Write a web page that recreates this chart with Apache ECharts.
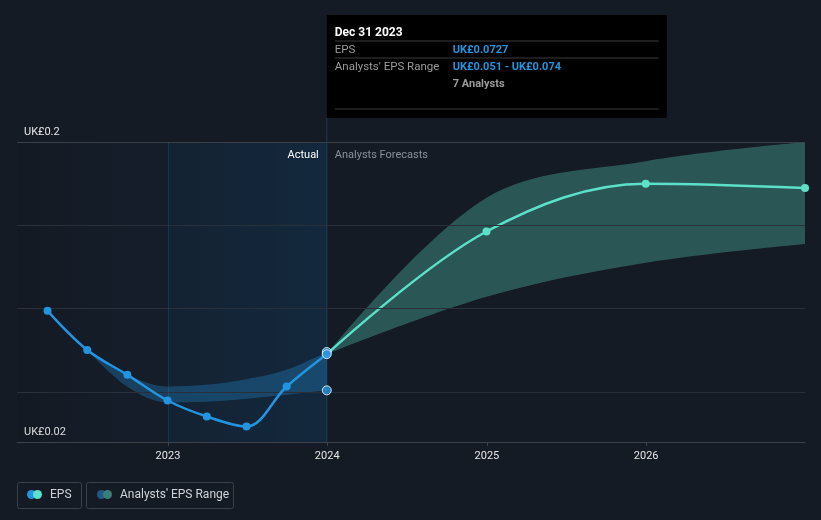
<!DOCTYPE html>
<html><head><meta charset="utf-8">
<script src="https://cdn.jsdelivr.net/npm/echarts@6/dist/echarts.min.js"></script>
<style>html,body{margin:0;padding:0;background:#151b25;} #c{width:821px;height:520px;}</style>
</head><body><div id="c"></div>
<script>
// ---- data ----
const actualDates = ['2022-03-31','2022-06-30','2022-09-30','2022-12-31','2023-03-31','2023-06-30','2023-09-30','2023-12-31'];
const actualEPS = [0.0987,0.0752,0.0603,0.0449,0.0353,0.0293,0.0533,0.0727];
const pastRangeDates = ['2022-06-30','2022-09-30','2022-12-31','2023-03-31','2023-06-30','2023-09-30','2023-12-31'];
const pastRangeLow = [0.0752,0.0531,0.0437,0.0441,0.0459,0.0483,0.051];
const pastRangeHigh = [0.0752,0.0603,0.0533,0.0543,0.0577,0.0633,0.074];
const forecastDates = ['2023-12-31','2024-12-31','2025-12-31','2026-12-31'];
const forecastEPS = [0.0727,0.1463,0.175,0.1724];
const forecastLow = [0.0727,0.1071,0.1275,0.1388];
const forecastHigh = [0.0727,0.1666,0.1885,0.2];
const highlightDate = '2023-12-31';
const highlightValues = [0.074, 0.0727, 0.051];
const yearStart = '2023-01-01';
const yLabelValues = [0.02, 0.2];
const gridValues = [0.05, 0.1, 0.15, 0.2];
const xMinDate = '2022-01-20', xMaxDate = '2026-12-31';
const tooltipTitle = 'Dec 31 2023';
const tooltipRows = [['EPS','UK£0.0727'],["Analysts' EPS Range",'UK£0.051 - UK£0.074']];
const tooltipAnalysts = '7 Analysts';

// ---- build ----
const t = s => +echarts.time.parse(s);
const zip = (d, v) => d.map((x, i) => [t(x), v[i]]);
const diff = (hi, lo) => hi.map((h, i) => +(h - lo[i]).toFixed(5));
const BLUE = '#2394df', TEAL = '#5ce1c8';
const SM = 0.35;
const YEAR = 365.25 * 24 * 3600 * 1000;
const chart = echarts.init(document.getElementById('c'), null, {renderer: 'canvas'});

const leftGrad = new echarts.graphic.LinearGradient(0,0,1,0,[{offset:0,color:'rgba(0,0,0,0.08)'},{offset:1,color:'rgba(10,100,170,0.03)'}]);
const rightGrad = new echarts.graphic.LinearGradient(0,0,1,0,[{offset:0,color:'rgba(10,100,170,0.10)'},{offset:1,color:'rgba(10,100,170,0.18)'}]);

chart.setOption({
  backgroundColor: '#151b25',
  animation: false,
  grid: {left: 17, right: 16, top: 142, height: 300},
  xAxis: {
    type: 'time', min: t(xMinDate), max: t(xMaxDate),
    minInterval: YEAR, maxInterval: YEAR, splitNumber: 5,
    axisLine: {lineStyle: {color: '#3e434b', width: 1}},
    axisTick: {show: true, length: 4, lineStyle: {color: '#3e434b'}},
    axisLabel: {formatter: '{yyyy}', color: '#e6e6e6', fontSize: 11, fontFamily: 'Roboto', margin: 9,
      showMinLabel: false, showMaxLabel: false, hideOverlap: false},
    splitLine: {show: false}
  },
  yAxis: {
    type: 'value', min: 0.02, max: 0.2,
    axisLine: {show: false}, axisTick: {show: false}, splitLine: {show: false},
    axisLabel: {inside: true, customValues: yLabelValues, formatter: v => 'UK£' + v,
      color: '#e6e6e6', fontSize: 11, fontFamily: 'Roboto', margin: 7,
      verticalAlign: 'bottom', padding: [0,0,4,0]}
  },
  series: [
    {
      name: 'pastLow', type: 'line', stack: 'past', data: zip(pastRangeDates, pastRangeLow),
      smooth: SM, symbol: 'none', lineStyle: {opacity: 0}, silent: true, z: 1,
      markArea: {silent: true, data: [
        [{xAxis: t(xMinDate), itemStyle: {color: leftGrad}}, {xAxis: t(yearStart)}],
        [{xAxis: t(yearStart), itemStyle: {color: rightGrad}}, {xAxis: t(highlightDate)}]
      ]},
      markLine: {silent: true, symbol: 'none', label: {show: false},
        data: gridValues.map(v => ({yAxis: v, lineStyle: {color: v === 0.2 ? '#3a3f48' : '#2a3039', width: 1, type: 'solid'}}))
          .concat([{xAxis: t(yearStart), lineStyle: {color: 'rgba(35,148,223,0.16)', width: 1, type: 'solid'}}])
      }
    },
    {
      name: 'pastHigh', type: 'line', stack: 'past', data: zip(pastRangeDates, diff(pastRangeHigh, pastRangeLow)),
      smooth: SM, symbol: 'none', lineStyle: {opacity: 0}, silent: true, z: 2,
      areaStyle: {color: 'rgba(35,148,223,0.3)', opacity: 1}
    },
    {
      name: 'fcLow', type: 'line', stack: 'fc', data: zip(forecastDates, forecastLow),
      smooth: SM, symbol: 'none', lineStyle: {opacity: 0}, silent: true, z: 2
    },
    {
      name: 'fcHigh', type: 'line', stack: 'fc', data: zip(forecastDates, diff(forecastHigh, forecastLow)),
      smooth: SM, symbol: 'none', lineStyle: {opacity: 0}, silent: true, z: 2,
      areaStyle: {color: 'rgba(92,225,200,0.3)', opacity: 1}
    },
    {
      name: 'Forecast', type: 'line', data: zip(forecastDates, forecastEPS).map((p, i) => i === 0 ? {value: p, symbol: 'none'} : p),
      smooth: SM, symbol: 'circle', symbolSize: 8, itemStyle: {color: TEAL}, lineStyle: {color: TEAL, width: 2.5}, z: 4
    },
    {
      name: 'EPS', type: 'line', data: zip(actualDates, actualEPS),
      smooth: SM, symbol: 'circle', symbolSize: 8, itemStyle: {color: BLUE}, lineStyle: {color: BLUE, width: 2.5}, z: 5
    },
    {
      name: 'hover', type: 'scatter', data: highlightValues.map(v => [t(highlightDate), v]),
      symbolSize: 9, itemStyle: {color: BLUE, borderColor: '#ffffff', borderWidth: 1}, z: 6
    }
  ]
});

const px = chart.convertToPixel({xAxisIndex: 0}, t(highlightDate));
const gridTop = chart.convertToPixel({yAxisIndex: 0}, 0.2);
const gridBot = chart.convertToPixel({yAxisIndex: 0}, 0.02);
const FONT = 'Roboto';
const tipL = px, tipT = 15, tipW = 340, tipH = 103;
const g = [
  {type: 'line', shape: {x1: px, y1: tipT + tipH, x2: px, y2: gridBot}, style: {stroke: 'rgba(35,148,223,0.26)', lineWidth: 1}, z: 3, silent: true},
  {type: 'rect', shape: {x: tipL, y: tipT, width: tipW, height: tipH}, style: {fill: '#000000'}, z: 10},
  {type: 'text', style: {text: tooltipTitle, x: tipL + 8, y: tipT + 17.5, fill: '#ffffff', font: 'bold 12px ' + FONT, verticalAlign: 'middle'}, z: 11},
  {type: 'line', shape: {x1: tipL + 8, y1: tipT + 26, x2: tipL + tipW - 8, y2: tipT + 26}, style: {stroke: '#3a3a3a', lineWidth: 1}, z: 11},
  {type: 'line', shape: {x1: tipL + 8, y1: tipT + 43, x2: tipL + tipW - 8, y2: tipT + 43}, style: {stroke: '#3a3a3a', lineWidth: 1}, z: 11},
  {type: 'line', shape: {x1: tipL + 8, y1: tipT + 94, x2: tipL + tipW - 8, y2: tipT + 94}, style: {stroke: '#3a3a3a', lineWidth: 1}, z: 11},
  {type: 'text', style: {text: tooltipRows[0][0], x: tipL + 8, y: tipT + 35.5, fill: '#9a9a9a', font: '11.5px ' + FONT, verticalAlign: 'middle'}, z: 11},
  {type: 'text', style: {text: tooltipRows[0][1], x: tipL + 126, y: tipT + 35.5, fill: BLUE, font: 'bold 11px ' + FONT, verticalAlign: 'middle'}, z: 11},
  {type: 'text', style: {text: tooltipRows[1][0], x: tipL + 8, y: tipT + 52.5, fill: '#9a9a9a', font: '11.5px ' + FONT, verticalAlign: 'middle'}, z: 11},
  {type: 'text', style: {text: tooltipRows[1][1], x: tipL + 126, y: tipT + 52.5, fill: BLUE, font: 'bold 11px ' + FONT, verticalAlign: 'middle'}, z: 11},
  {type: 'text', style: {text: tooltipAnalysts, x: tipL + 126, y: tipT + 69.5, fill: '#9a9a9a', font: 'bold 11px ' + FONT, verticalAlign: 'middle'}, z: 11},
  {type: 'text', style: {text: 'Actual', x: px - 8, y: gridTop + 13, fill: '#ffffff', font: '11px ' + FONT, align: 'right', verticalAlign: 'middle'}, z: 11},
  {type: 'text', style: {text: 'Analysts Forecasts', x: px + 8, y: gridTop + 13, fill: '#8b9099', font: '11px ' + FONT, align: 'left', verticalAlign: 'middle'}, z: 11},
  {type: 'rect', shape: {x: 17.5, y: 482.5, width: 64, height: 26, r: 2}, style: {fill: 'none', stroke: '#3b4049', lineWidth: 1}, z: 10},
  {type: 'circle', shape: {cx: 31.5, cy: 494.5, r: 4.5}, style: {fill: BLUE}, z: 11},
  {type: 'circle', shape: {cx: 37.5, cy: 494.5, r: 4.5}, style: {fill: TEAL}, z: 11},
  {type: 'text', style: {text: 'EPS', x: 50, y: 495, fill: '#d0d3d7', font: '12px ' + FONT, verticalAlign: 'middle'}, z: 11},
  {type: 'rect', shape: {x: 86.5, y: 482.5, width: 147, height: 26, r: 2}, style: {fill: 'none', stroke: '#3b4049', lineWidth: 1}, z: 10},
  {type: 'circle', shape: {cx: 101.5, cy: 494.5, r: 4.5}, style: {fill: '#1e5a88'}, z: 11},
  {type: 'circle', shape: {cx: 107.5, cy: 494.5, r: 4.5}, style: {fill: '#3a8078'}, z: 11},
  {type: 'text', style: {text: "Analysts' EPS Range", x: 120, y: 495, fill: '#d0d3d7', font: '12px ' + FONT, verticalAlign: 'middle'}, z: 11}
];
chart.setOption({graphic: g});
</script></body></html>
